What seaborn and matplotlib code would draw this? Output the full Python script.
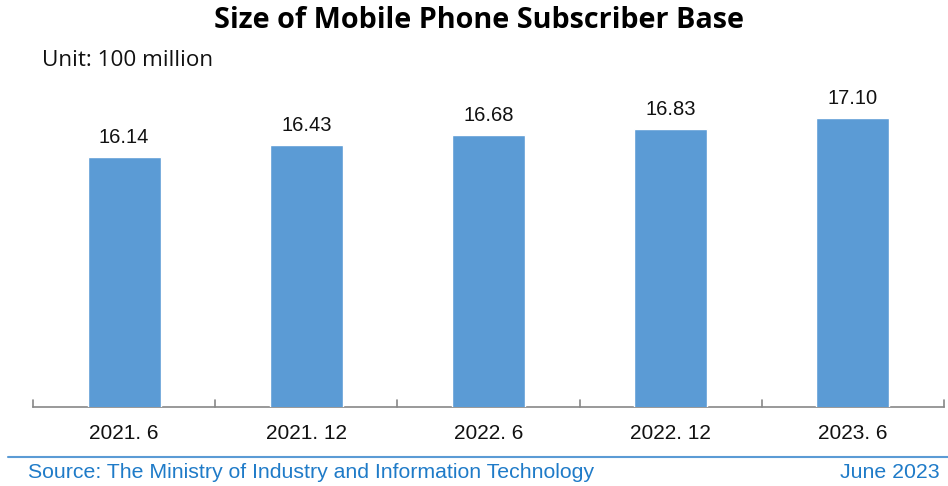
import matplotlib
matplotlib.use("Agg")
import matplotlib.pyplot as plt
import seaborn as sns
import pandas as pd
from matplotlib.lines import Line2D

categories = ["2021. 6", "2021. 12", "2022. 6", "2022. 12", "2023. 6"]
values = [16.14, 16.43, 16.68, 16.83, 17.10]
value_labels = ["16.14", "16.43", "16.68", "16.83", "17.10"]

title = "Size of Mobile Phone Subscriber Base"
unit_text = "Unit: 100 million"
source_text = "Source: The Ministry of Industry and Information Technology"
date_text = "June 2023"

sns.set_theme(style="white")
plt.rcParams['font.family'] = ['Liberation Sans', 'DejaVu Sans']

df = pd.DataFrame({"period": categories, "value": values})

W, H = 948, 486
fig = plt.figure(figsize=(W / 100, H / 100), dpi=100)
ax_left, ax_right = 33 / W, 944 / W
ax_bottom = (H - 407) / H
ax_top = (H - 84.6) / H
ax = fig.add_axes([ax_left, ax_bottom, ax_right - ax_left, ax_top - ax_bottom])

sns.barplot(data=df, x="period", y="value", color="#5B9BD5", width=0.4,
            saturation=1, ax=ax, zorder=3)
ax.set_ylim(9.93, 17.93)
ax.set_xlim(-0.5, len(categories) - 0.5)

for p, lab in zip(ax.patches, value_labels):
    ax.annotate(lab, (p.get_x() + p.get_width() / 2, p.get_height()),
                xytext=(0, 7), textcoords="offset points",
                ha="center", va="bottom", fontsize=14.5, color="#111111")

for s in ["top", "right", "left"]:
    ax.spines[s].set_visible(False)
ax.spines["bottom"].set_color("#888888")
ax.spines["bottom"].set_linewidth(1.2)
ax.set_yticks([])
ax.set_xlabel("")
ax.set_ylabel("")
ax.set_xticks(range(len(categories)))
ax.set_xticklabels(categories, fontsize=15, color="#111111")
ax.tick_params(axis="x", length=0, pad=12)
# category boundary tick marks
ymin = ax.get_ylim()[0]
for b in [i - 0.5 for i in range(len(categories) + 1)]:
    ax.plot([b, b], [ymin, ymin + 7 / 40.3], color="#888888", lw=1.2,
            clip_on=False, zorder=4)

fig.text(479 / W, (H - 20) / H, title, ha="center", va="center",
         fontsize=20.7, fontweight="bold", family=["Open Sans", "DejaVu Sans"],
         color="#000000")
fig.text(42 / W, (H - 61) / H, unit_text, ha="left", va="center",
         fontsize=16.2, family=["Open Sans", "DejaVu Sans"], color="#111111")

fig.add_artist(Line2D([8 / W, 1.0], [(H - 457) / H] * 2, color="#5B9BD5",
                      lw=1.5, transform=fig.transFigure))
fig.text(28 / W, (H - 472) / H, source_text, ha="left", va="center",
         fontsize=15.3, color="#1F7BC8")
fig.text(940 / W, (H - 472) / H, date_text, ha="right", va="center",
         fontsize=15.3, color="#1F7BC8")

fig.savefig("out.png", dpi=100)
